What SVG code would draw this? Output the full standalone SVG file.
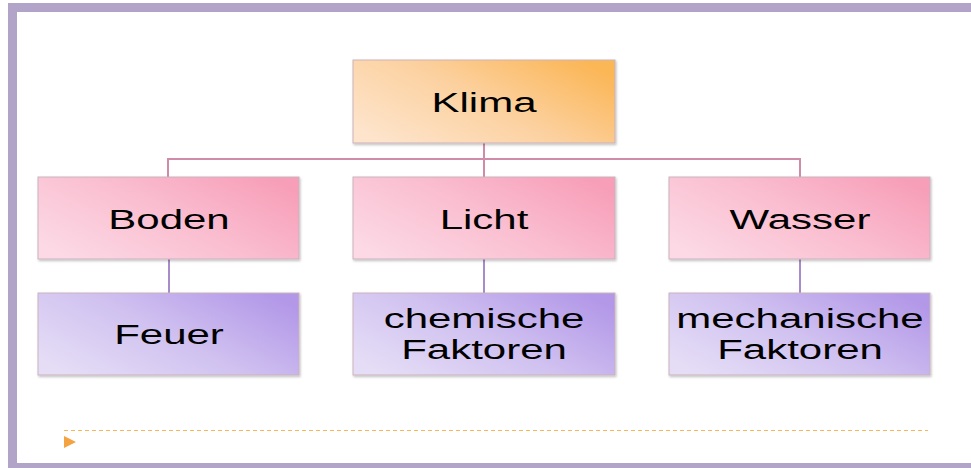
<svg xmlns="http://www.w3.org/2000/svg" width="971" height="468" viewBox="0 0 971 468">
  <defs>
    <linearGradient id="gOrange" x1="0" y1="0.8" x2="1" y2="0.2">
      <stop offset="0" stop-color="#fde4cb"/>
      <stop offset="0.5" stop-color="#fcd1a0"/>
      <stop offset="1" stop-color="#fbb656"/>
    </linearGradient>
    <linearGradient id="gPink" x1="0" y1="0.8" x2="1" y2="0.2">
      <stop offset="0" stop-color="#fcd9e5"/>
      <stop offset="0.5" stop-color="#fabfd1"/>
      <stop offset="1" stop-color="#f79fb9"/>
    </linearGradient>
    <linearGradient id="gPurple" x1="0" y1="0.8" x2="1" y2="0.2">
      <stop offset="0" stop-color="#e5ddf6"/>
      <stop offset="0.5" stop-color="#d0c1f0"/>
      <stop offset="1" stop-color="#b398e8"/>
    </linearGradient>
    <filter id="sh" x="-5%" y="-5%" width="110%" height="115%">
      <feDropShadow dx="1" dy="1.5" stdDeviation="1" flood-color="#000" flood-opacity="0.25"/>
    </filter>
  </defs>
  <style>
    .box { stroke: #c9b3bd; stroke-width: 1; filter: url(#sh); }
    .lbl { font-family: "Liberation Sans", Arial, sans-serif; font-size: 28px; fill: #000; text-anchor: middle; }
    .c1 { stroke: #d28aa9; stroke-width: 2; fill: none; }
    .c2 { stroke: #a88bc9; stroke-width: 2; fill: none; }
  </style>

  <rect x="0" y="0" width="971" height="468" fill="#ffffff"/>

  <!-- frame -->
  <g id="frame" fill="#b2a3c9">
    <rect x="8" y="3" width="963" height="9"/>
    <rect x="8" y="3" width="9" height="465"/>
    <rect x="8" y="463" width="963" height="5"/>
  </g>

  <!-- connectors -->
  <g id="connectors">
    <path class="c1" d="M484 143 V177 M168 177 V159 H800 V177"/>
    <path class="c2" d="M169 259 V293 M484 259 V293 M800 259 V293"/>
  </g>

  <g id="klima">
    <rect class="box" x="353" y="60" width="262" height="83" fill="url(#gOrange)"/>
    <text class="lbl" transform="translate(484,112) scale(1.5,1)">Klima</text>
  </g>

  <g id="boden">
    <rect class="box" x="38" y="177" width="261" height="82" fill="url(#gPink)"/>
    <text class="lbl" transform="translate(169,229) scale(1.5,1)">Boden</text>
  </g>
  <g id="licht">
    <rect class="box" x="353" y="177" width="262" height="82" fill="url(#gPink)"/>
    <text class="lbl" transform="translate(484,229) scale(1.5,1)">Licht</text>
  </g>
  <g id="wasser">
    <rect class="box" x="669" y="177" width="261" height="82" fill="url(#gPink)"/>
    <text class="lbl" transform="translate(800,229) scale(1.5,1)">Wasser</text>
  </g>

  <g id="feuer">
    <rect class="box" x="38" y="293" width="261" height="82" fill="url(#gPurple)"/>
    <text class="lbl" transform="translate(169,344) scale(1.5,1)">Feuer</text>
  </g>
  <g id="chemische">
    <rect class="box" x="353" y="293" width="262" height="82" fill="url(#gPurple)"/>
    <text class="lbl" transform="translate(484,328) scale(1.5,1)">chemische</text>
    <text class="lbl" transform="translate(484,359) scale(1.5,1)">Faktoren</text>
  </g>
  <g id="mechanische">
    <rect class="box" x="669" y="293" width="261" height="82" fill="url(#gPurple)"/>
    <text class="lbl" transform="translate(800,328) scale(1.5,1)">mechanische</text>
    <text class="lbl" transform="translate(800,359) scale(1.5,1)">Faktoren</text>
  </g>

  <!-- footer -->
  <g id="footer">
    <line x1="64" y1="430.5" x2="928" y2="430.5" stroke="#f8b65a" stroke-width="1" stroke-dasharray="4,3"/>
    <polygon points="64,436 76,442 64,448" fill="#f4a340"/>
  </g>
</svg>
